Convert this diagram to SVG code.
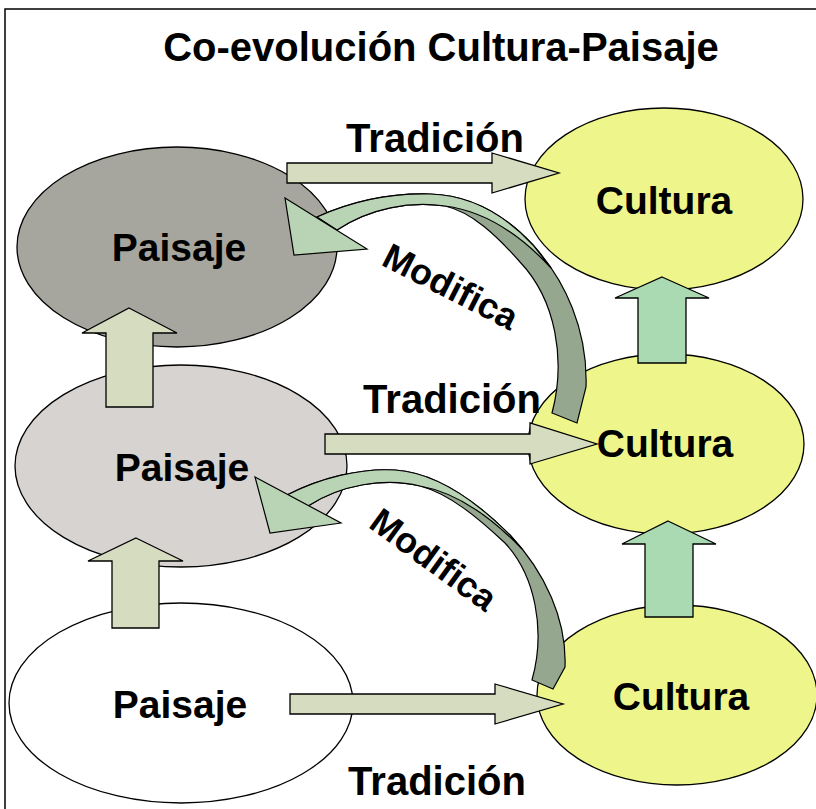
<svg xmlns="http://www.w3.org/2000/svg" width="816" height="809" viewBox="0 0 816 809">
<style>
  .lbl { font-family: "Liberation Sans", Arial, sans-serif; font-weight: bold; fill: #000; text-anchor: middle; }
  .node { stroke: #000; stroke-width: 1.3; }
  .blk { fill: #D6DCBF; stroke: #000; stroke-width: 1.3; stroke-linejoin: miter; }
  .mint { fill: #A9DAB1; stroke: #000; stroke-width: 1.3; }
  .rib-dark { fill: #95A88F; stroke: #000; stroke-width: 1.2; }
  .rib-light { fill: #B9D3B5; stroke: #000; stroke-width: 1.2; }
</style>
<rect x="0" y="0" width="816" height="809" fill="#fff"/>
<rect x="5" y="9" width="840" height="840" fill="none" stroke="#000" stroke-width="1.5"/>
<text class="lbl" x="441" y="61" font-size="40">Co-evolución Cultura-Paisaje</text>

<g id="paisaje-top"><ellipse class="node" cx="177" cy="247" rx="160" ry="100" fill="#A7A69E"/></g>
<g id="paisaje-mid"><ellipse class="node" cx="181" cy="466" rx="166" ry="101" fill="#D6D3D0"/></g>
<g id="paisaje-bot"><ellipse class="node" cx="181" cy="703" rx="172" ry="100" fill="#FFFFFF"/></g>
<g id="cultura-top"><ellipse class="node" cx="664" cy="199" rx="139" ry="91" fill="#EEF68B"/></g>
<g id="cultura-mid"><ellipse class="node" cx="666" cy="444" rx="138" ry="90" fill="#EEF68B"/></g>
<g id="cultura-bot"><ellipse class="node" cx="677" cy="695" rx="140" ry="90" fill="#EEF68B"/></g>

<g id="connectors">
  <polygon class="blk" points="129,308 177,333 153,333 153,407 106,407 106,333 82,333"/>
  <polygon class="blk" points="136,538 183,561 159,561 159,628 112,628 112,561 88,561"/>
  <polygon class="mint" points="662,277 709,298 686,298 686,363 638,363 638,298 615,298"/>
  <polygon class="mint" points="668,521 716,544 693,544 693,617 645,617 645,544 622,544"/>
  <polygon class="blk" points="287,163 492,163 492,153 559,173 492,193 492,183 287,183"/>
  <polygon class="blk" points="325,434 530,434 530,423 597,444 530,464 530,454 325,454"/>
  <polygon class="blk" points="290,694 495,694 495,684 563,704 495,724 495,714 290,714"/>

  <g id="modifica-top">
    <path class="rib-dark" d="M317,217 C350,202 390,193 430,194 C470,195 505,215 533,245 C565,280 588,330 586,387 L577,423 L552,413 C566,360 556,300 520,262 C497,236 472,212 445,206 C410,201 370,208 337,230 Z"/>
    <path class="rib-light" d="M317,217 C350,202 390,193 430,194 C470,195 505,215 533,245 L551,268 C527,242 492,212 445,206 C410,201 370,208 337,230 Z"/>
    <polygon class="rib-light" points="285,198 367,249 294,255"/>
  </g>
  <g id="modifica-bot">
    <path class="rib-dark" d="M287,495 C320,478 360,468 395,470 C440,473 480,505 510,535 C545,572 567,620 565,667 L553,689 L532,680 C546,630 535,575 505,543 C478,518 450,494 420,486 C385,477 340,485 308,506 Z"/>
    <path class="rib-light" d="M287,495 C320,478 360,468 395,470 C440,473 480,505 510,535 L522,549 C495,521 460,493 420,486 C385,477 340,485 308,506 Z"/>
    <polygon class="rib-light" points="255,477 341,523 270,533"/>
  </g>
</g>

<text class="lbl" x="179" y="261" font-size="39">Paisaje</text>
<text class="lbl" x="182" y="481" font-size="39">Paisaje</text>
<text class="lbl" x="180" y="718" font-size="39">Paisaje</text>
<text class="lbl" x="664" y="214" font-size="39">Cultura</text>
<text class="lbl" x="665" y="457" font-size="39">Cultura</text>
<text class="lbl" x="681" y="710" font-size="39">Cultura</text>
<text class="lbl" x="435" y="152" font-size="40">Tradición</text>
<text class="lbl" x="452" y="413" font-size="40">Tradición</text>
<text class="lbl" x="437" y="795" font-size="40">Tradición</text>
<text class="lbl" transform="translate(451,286) rotate(27)" x="0" y="13" font-size="36">Modifica</text>
<text class="lbl" transform="translate(434,559) rotate(36)" x="0" y="13" font-size="36">Modifica</text>
</svg>
